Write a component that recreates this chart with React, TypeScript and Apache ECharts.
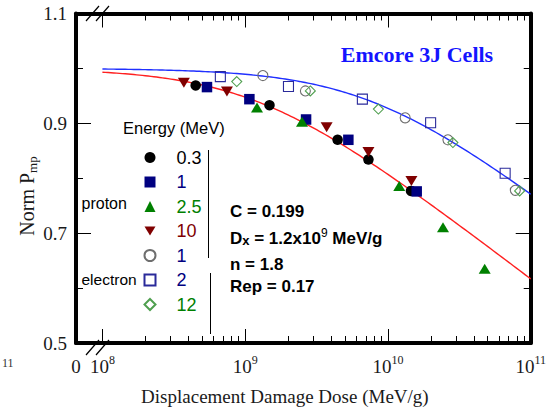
import React, { useEffect, useRef } from "react";
import * as echarts from "echarts";

// Displacement-damage fit: Pmp/Pmp0 = 1 - C * log10(1 + D / Dx)
const FIT_C = 0.199;
const FIT_DX = 1.2e9; // MeV/g
const FIT_N = 1.8;
const FIT_REP = 0.17;
// effective Dx of the electron curve
const ELECTRON_DX = 7.6e9;

// x axis runs in log10(dose); the left end is the broken "0"
const X_LOG_MIN = 7.815;
const X_LOG_MAX = 11;
const xDecades = [8, 9, 10, 11];

// proton data: dose (MeV/g) and normalized Pmp
const p03Dose = [4.5e8, 1.48e9, 4.44e9, 7.3e9, 1.45e10];
const p03Pmp = [0.969, 0.933, 0.87, 0.834, 0.777];
const p1Dose = [5.4e8, 1.07e9, 2.67e9, 5.28e9, 1.59e10];
const p1Pmp = [0.966, 0.944, 0.907, 0.87, 0.776];
const p25Dose = [1.21e9, 2.5e9, 1.2e10, 2.43e10, 4.76e10];
const p25Pmp = [0.929, 0.903, 0.786, 0.711, 0.635];
const p10Dose = [3.72e8, 7.45e8, 3.72e9, 7.3e9, 1.46e10];
const p10Pmp = [0.974, 0.958, 0.893, 0.848, 0.795];

// electron data
const e1Dose = [1.33e9, 2.64e9, 1.32e10, 2.63e10, 7.8e10];
const e1Pmp = [0.987, 0.959, 0.91, 0.87, 0.778];
const e2Dose = [6.7e8, 2.01e9, 6.62e9, 1.99e10, 6.62e10];
const e2Pmp = [0.985, 0.967, 0.944, 0.901, 0.809];
const e12Dose = [8.73e8, 2.86e9, 8.57e9, 2.85e10, 8.36e10];
const e12Pmp = [0.976, 0.959, 0.926, 0.865, 0.777];

const SERIF = "'Liberation Serif', 'Times New Roman', serif";
const SANS = "'Liberation Sans', Arial, sans-serif";

const TRANSPARENT = "rgba(0,0,0,0)";

type Def = {
  id: string;
  label: string;
  dose: number[];
  pmp: number[];
  symbol: string;
  size: number | number[];
  fill: string;
  stroke: string;
  text: string;
};

const defs: Def[] = [
  { id: "p0.3", label: "0.3", dose: p03Dose, pmp: p03Pmp, symbol: "circle", size: 10.5, fill: "#000000", stroke: "#000000", text: "#000000" },
  { id: "p1", label: "1", dose: p1Dose, pmp: p1Pmp, symbol: "rect", size: 10.5, fill: "#000080", stroke: "#000080", text: "#000080" },
  { id: "p2.5", label: "2.5", dose: p25Dose, pmp: p25Pmp, symbol: "triangle", size: [12, 10], fill: "#008000", stroke: "#008000", text: "#008000" },
  { id: "p10", label: "10", dose: p10Dose, pmp: p10Pmp, symbol: "path://M0,0L12,0L6,10Z", size: [12, 10], fill: "#800000", stroke: "#800000", text: "#800000" },
  { id: "e1", label: "1", dose: e1Dose, pmp: e1Pmp, symbol: "circle", size: 10, fill: TRANSPARENT, stroke: "#6e6e6e", text: "#000080" },
  { id: "e2", label: "2", dose: e2Dose, pmp: e2Pmp, symbol: "rect", size: 10, fill: TRANSPARENT, stroke: "#2a2a9a", text: "#000080" },
  { id: "e12", label: "12", dose: e12Dose, pmp: e12Pmp, symbol: "diamond", size: 10, fill: TRANSPARENT, stroke: "#4f9f4f", text: "#008000" },
];

const labelOf: Record<string, string> = {};
defs.forEach((d) => (labelOf[d.id] = d.label));

function fitCurve(dx: number): number[][] {
  const pts: number[][] = [];
  const steps = 150;
  for (let i = 0; i <= steps; i++) {
    const lg = 8 + (3 * i) / steps;
    const dose = Math.pow(10, lg);
    pts.push([lg, 1 - FIT_C * Math.log10(1 + dose / dx)]);
  }
  return pts;
}

const xMinorTicks: number[] = [];
for (let n = 8; n <= 10; n++) {
  for (let k = 2; k <= 9; k++) xMinorTicks.push(n + Math.log10(k));
}

const dxExp = Math.floor(Math.log10(FIT_DX));
const dxMant = parseFloat((FIT_DX / Math.pow(10, dxExp)).toFixed(2));

const paramRich = {
  b: { fontSize: 17, fontWeight: "bold", fontFamily: SANS, fill: "#000", color: "#000", lineHeight: 20, verticalAlign: "bottom" },
  sub: { fontSize: 13, fontWeight: "bold", fontFamily: SANS, fill: "#000", color: "#000", lineHeight: 13, padding: [11, 0, 0, 0], verticalAlign: "bottom" },
  sup: { fontSize: 12, fontFamily: SANS, fill: "#000", color: "#000", lineHeight: 12, verticalAlign: "top" },
};

function paramText(text: string, y: number) {
  return {
    type: "text",
    x: 230,
    y,
    z: 10,
    style: {
      text,
      rich: paramRich,
      fill: "#000",
      align: "left",
      textAlign: "left",
      verticalAlign: "middle",
      textVerticalAlign: "middle",
    },
  };
}

function plainText(text: string, x: number, y: number, font: any) {
  return {
    type: "text",
    x,
    y,
    z: 10,
    style: {
      text,
      fill: font.fill || "#000",
      fontSize: font.fontSize,
      fontFamily: font.fontFamily,
      fontWeight: font.fontWeight || "normal",
      align: font.align || "left",
      textAlign: font.align || "left",
      verticalAlign: "middle",
      textVerticalAlign: "middle",
    },
  };
}

function slash(x1: number, y1: number, x2: number, y2: number) {
  return { type: "line", z: 10, shape: { x1, y1, x2, y2 }, style: { stroke: "#000", lineWidth: 1.2 } };
}

const tickLabelRich = {
  base: { fontSize: 19, fontFamily: SERIF, color: "#1a1a1a", lineHeight: 22, verticalAlign: "bottom" },
  sup: { fontSize: 12, fontFamily: SERIF, color: "#1a1a1a", lineHeight: 12, verticalAlign: "top" },
};

function xAxisDef(position: "top" | "bottom", minor: boolean, withLabels: boolean) {
  return {
    type: "value",
    position,
    min: X_LOG_MIN,
    max: X_LOG_MAX,
    axisLine: { show: !minor, onZero: false, lineStyle: { color: "#000", width: 4 } },
    axisTick: {
      show: true,
      inside: true,
      length: minor ? 7 : 14,
      customValues: minor ? xMinorTicks : xDecades,
      lineStyle: { color: "#000", width: 1 },
    },
    axisLabel: withLabels
      ? {
          show: true,
          customValues: [X_LOG_MIN, ...xDecades],
          margin: 11,
          formatter: (v: number) =>
            Math.abs(v - X_LOG_MIN) < 1e-6 ? "{base|0}" : `{base|10}{sup|${Math.round(v)}}`,
          rich: tickLabelRich,
        }
      : { show: false },
    splitLine: { show: false },
    ...(withLabels
      ? {
          name: "Displacement Damage Dose (MeV/g)",
          nameLocation: "middle",
          nameGap: 44,
          nameTextStyle: { fontSize: 19, fontFamily: SERIF, color: "#1a1a1a", padding: [0, 37, 0, 0] },
        }
      : {}),
  };
}

function yAxisDef(position: "left" | "right", minor: boolean, withLabels: boolean) {
  return {
    type: "value",
    position,
    min: 0.5,
    max: 1.1,
    interval: minor ? 0.1 : 0.2,
    axisLine: { show: !minor, onZero: false, lineStyle: { color: "#000", width: 4 } },
    axisTick: { show: true, inside: true, length: minor ? 7 : 15, lineStyle: { color: "#000", width: 1 } },
    axisLabel: withLabels
      ? {
          show: true,
          margin: 9,
          fontSize: 19,
          fontFamily: SERIF,
          color: "#1a1a1a",
          padding: [8, 0, 0, 0],
          formatter: (v: number) => v.toFixed(1),
        }
      : { show: false },
    splitLine: { show: false },
  };
}

const option: any = {
  animation: false,
  backgroundColor: "#ffffff",
  grid: { left: 76, right: 17, top: 13.5, bottom: 65, containLabel: false },
  xAxis: [
    xAxisDef("bottom", false, true),
    xAxisDef("bottom", true, false),
    xAxisDef("top", false, false),
    xAxisDef("top", true, false),
  ],
  yAxis: [
    yAxisDef("left", false, true),
    yAxisDef("left", true, false),
    yAxisDef("right", false, false),
    yAxisDef("right", true, false),
  ],
  legend: {
    orient: "vertical",
    left: 138.5,
    top: 142.5,
    itemWidth: 11,
    itemHeight: 11,
    itemGap: 4.5,
    selectedMode: false,
    formatter: (name: string) => labelOf[name],
    textStyle: { fontFamily: SANS, fontSize: 18, lineHeight: 20, padding: [0, 0, 0, 16] },
    data: defs.map((d) => ({ name: d.id, textStyle: { color: d.text } })),
  },
  series: [
    {
      name: "proton fit",
      type: "line",
      data: fitCurve(FIT_DX),
      showSymbol: false,
      symbol: "none",
      lineStyle: { color: "#ff2020", width: 1.4 },
      silent: true,
      z: 1,
    },
    {
      name: "electron fit",
      type: "line",
      data: fitCurve(ELECTRON_DX),
      showSymbol: false,
      symbol: "none",
      lineStyle: { color: "#2030ff", width: 1.4 },
      silent: true,
      z: 1,
    },
    ...defs.map((d) => ({
      name: d.id,
      type: "scatter",
      data: d.dose.map((v, i) => [Math.log10(v), d.pmp[i]]),
      symbol: d.symbol,
      symbolSize: d.size,
      itemStyle: {
        color: d.fill,
        borderColor: d.stroke,
        borderWidth: d.fill === TRANSPARENT ? 1.1 : 0,
        opacity: 1,
      },
      z: 3,
    })),
  ],
  graphic: [
    // title
    plainText("Emcore 3J Cells", 417, 54, { fontSize: 22, fontFamily: SERIF, fontWeight: "bold", fill: "#1414ff", align: "center" }),
    // y-axis title
    {
      type: "text",
      x: 28,
      y: 196,
      rotation: Math.PI / 2,
      z: 10,
      style: {
        text: "{b|Norm P}{s|mp}",
        align: "center",
        textAlign: "center",
        verticalAlign: "middle",
        textVerticalAlign: "middle",
        rich: {
          b: { fontSize: 20, fontFamily: SERIF, fill: "#1a1a1a", lineHeight: 22, verticalAlign: "top" },
          s: { fontSize: 13, fontFamily: SERIF, fill: "#1a1a1a", lineHeight: 13, padding: [12, 0, 0, 0], verticalAlign: "bottom" },
        },
      },
    },
    // legend headings
    plainText("Energy (MeV)", 123, 128, { fontSize: 16.5, fontFamily: SANS }),
    plainText("proton", 81.5, 203, { fontSize: 16, fontFamily: SANS }),
    plainText("electron", 81.5, 279, { fontSize: 15.5, fontFamily: SANS }),
    { type: "line", z: 10, shape: { x1: 208.5, y1: 150, x2: 208.5, y2: 258 }, style: { stroke: "#000", lineWidth: 1 } },
    { type: "line", z: 10, shape: { x1: 210.5, y1: 273, x2: 210.5, y2: 334 }, style: { stroke: "#000", lineWidth: 1 } },
    // fit parameters
    paramText(`{b|C = ${FIT_C}}`, 210),
    paramText(`{b|D}{sub|x}{b| = ${dxMant}x10}{sup|${dxExp}}{b| MeV/g}`, 237),
    paramText(`{b|n = ${FIT_N}}`, 263),
    paramText(`{b|Rep = ${FIT_REP}}`, 285),
    // axis break marks
    slash(86, 21, 99, 6),
    slash(96, 21, 109, 6),
    slash(86, 355, 99, 340),
    slash(96, 355, 109, 340),
    // stray exponent at the left margin
    plainText("11", 2, 363, { fontSize: 12, fontFamily: SERIF, fill: "#333" }),
  ],
};

export default function App() {
  const ref = useRef<HTMLDivElement>(null);
  useEffect(() => {
    if (!ref.current) return;
    const chart = echarts.init(ref.current, null, { renderer: "svg" });
    chart.setOption(option);
    return () => chart.dispose();
  }, []);
  return (
    <div
      ref={ref}
      style={{ position: "fixed", left: 0, top: 0, width: 549, height: 411, background: "#fff" }}
    />
  );
}
